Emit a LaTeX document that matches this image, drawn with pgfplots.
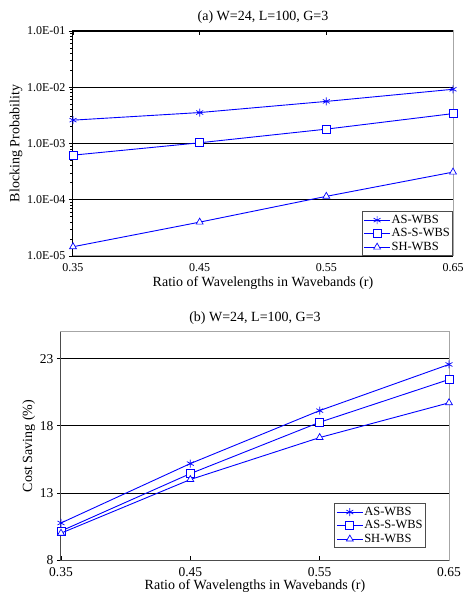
\documentclass[border=0pt]{standalone}
\usepackage{pgfplots}
\pgfplotsset{compat=1.18}
\usepackage{fontspec}
\setmainfont{Liberation Serif}
\definecolor{lineblue}{RGB}{0,0,255}
\begin{document}
\begin{tikzpicture}
\path[use as bounding box] (0pt,0pt) rectangle (464pt,602pt);
\pgfplotsset{
  every axis/.append style={
    scale only axis,
    font=\fontsize{14}{16}\selectfont,
    /pgf/number format/assume math mode=true,
    axis line style={gray!70, line width=1pt},
    xmin=0.35, xmax=0.65,
    xtick={0.35,0.45,0.55,0.65},
    xticklabels={0.35,0.45,0.55,0.65},
    ymajorgrids,
    grid style={black, line width=0.8pt},
    major tick length=4pt,
    tick style={black, line width=0.8pt},
    clip marker paths=true,
    legend cell align=left,
    legend style={draw=black!70, line width=1.2pt, fill=white,
      font=\fontsize{12.5}{12.5}\selectfont, inner sep=1.5pt,
      nodes={inner sep=1pt, text height=9pt, text depth=2.5pt}, row sep=0pt},
    legend image code/.code={\draw[mark repeat=2,mark phase=2] plot coordinates {(0pt,0pt) (13pt,0pt) (26pt,0pt)};},
    title style={yshift=-2pt},
  },
  ser/.style={draw=lineblue, color=lineblue, line width=0.9pt, mark size=4pt, mark options={solid, draw=lineblue, line width=0.7pt, fill=white}},
}
% ---------- Top chart ----------
\begin{axis}[
  at={(73pt,346pt)}, anchor=south west,
  width=380pt, height=225pt,
  ymode=log, ymin=1e-5, ymax=1e-1,
  ytick={1e-5,1e-4,1e-3,1e-2,1e-1},
  yticklabels={1.0E-05,1.0E-04,1.0E-03,1.0E-02,1.0E-01},
  yticklabel style={font=\fontsize{12}{12}\selectfont},
  xticklabel style={font=\fontsize{12}{12}\selectfont, yshift=-4pt},
  ytick pos=left, xtick pos=right, ytick align=outside, xtick align=inside,
  xticklabel pos=left,
  clip=false,
  title={(a) W=24, L=100, G=3},
  ylabel={Blocking Probability},
  xlabel={Ratio of Wavelengths in Wavebands (r)},
  xlabel style={yshift=2pt},
  ylabel style={yshift=-2pt},
  legend style={at={(1,0)}, anchor=south east},
]
\draw[black, line width=1pt] (rel axis cs:0,0) -- (rel axis cs:0,1) -- (rel axis cs:1,1);
\addplot[ser, mark=asterisk] coordinates {(0.35,2.6e-3) (0.45,3.55e-3) (0.55,5.6e-3) (0.65,9.2e-3)};
\addplot[ser, mark=square*] coordinates {(0.35,6.2e-4) (0.45,1.03e-3) (0.55,1.8e-3) (0.65,3.4e-3)};
\addplot[ser, mark=triangle*] coordinates {(0.35,1.46e-5) (0.45,4.0e-5) (0.55,1.15e-4) (0.65,3.1e-4)};
\legend{AS-WBS,AS-S-WBS,SH-WBS}
\end{axis}
% ---------- Bottom chart ----------
\begin{axis}[
  at={(61pt,42pt)}, anchor=south west,
  width=388pt, height=228pt,
  ymin=8, ymax=25,
  ytick={8,13,18,23},
  yticklabels={8,13,18,23},
  yticklabel style={font=\fontsize{13.5}{13.5}\selectfont},
  xticklabel style={font=\fontsize{13.5}{13.5}\selectfont, yshift=-4pt},
  ytick pos=left, xtick pos=left, ytick align=outside, xtick align=inside,
  clip=false,
  title={(b) W=24, L=100, G=3},
  ylabel={Cost Saving (\%)},
  xlabel={Ratio of Wavelengths in Wavebands (r)},
  xlabel style={yshift=4pt},
  ylabel style={yshift=-2pt},
  legend style={at={(0.94,0.053)}, anchor=south east},
]
\draw[black!70, line width=1pt] (rel axis cs:0,1) -- (rel axis cs:0,0) -- (rel axis cs:1,0);
\addplot[ser, mark=asterisk] coordinates {(0.35,10.76) (0.45,15.19) (0.55,19.14) (0.65,22.58)};
\addplot[ser, mark=square*] coordinates {(0.35,10.16) (0.45,14.44) (0.55,18.27) (0.65,21.46)};
\addplot[ser, mark=triangle*] coordinates {(0.35,10.0) (0.45,14.0) (0.55,17.13) (0.65,19.72)};
\legend{AS-WBS,AS-S-WBS,SH-WBS}
\end{axis}
\end{tikzpicture}
\end{document}
